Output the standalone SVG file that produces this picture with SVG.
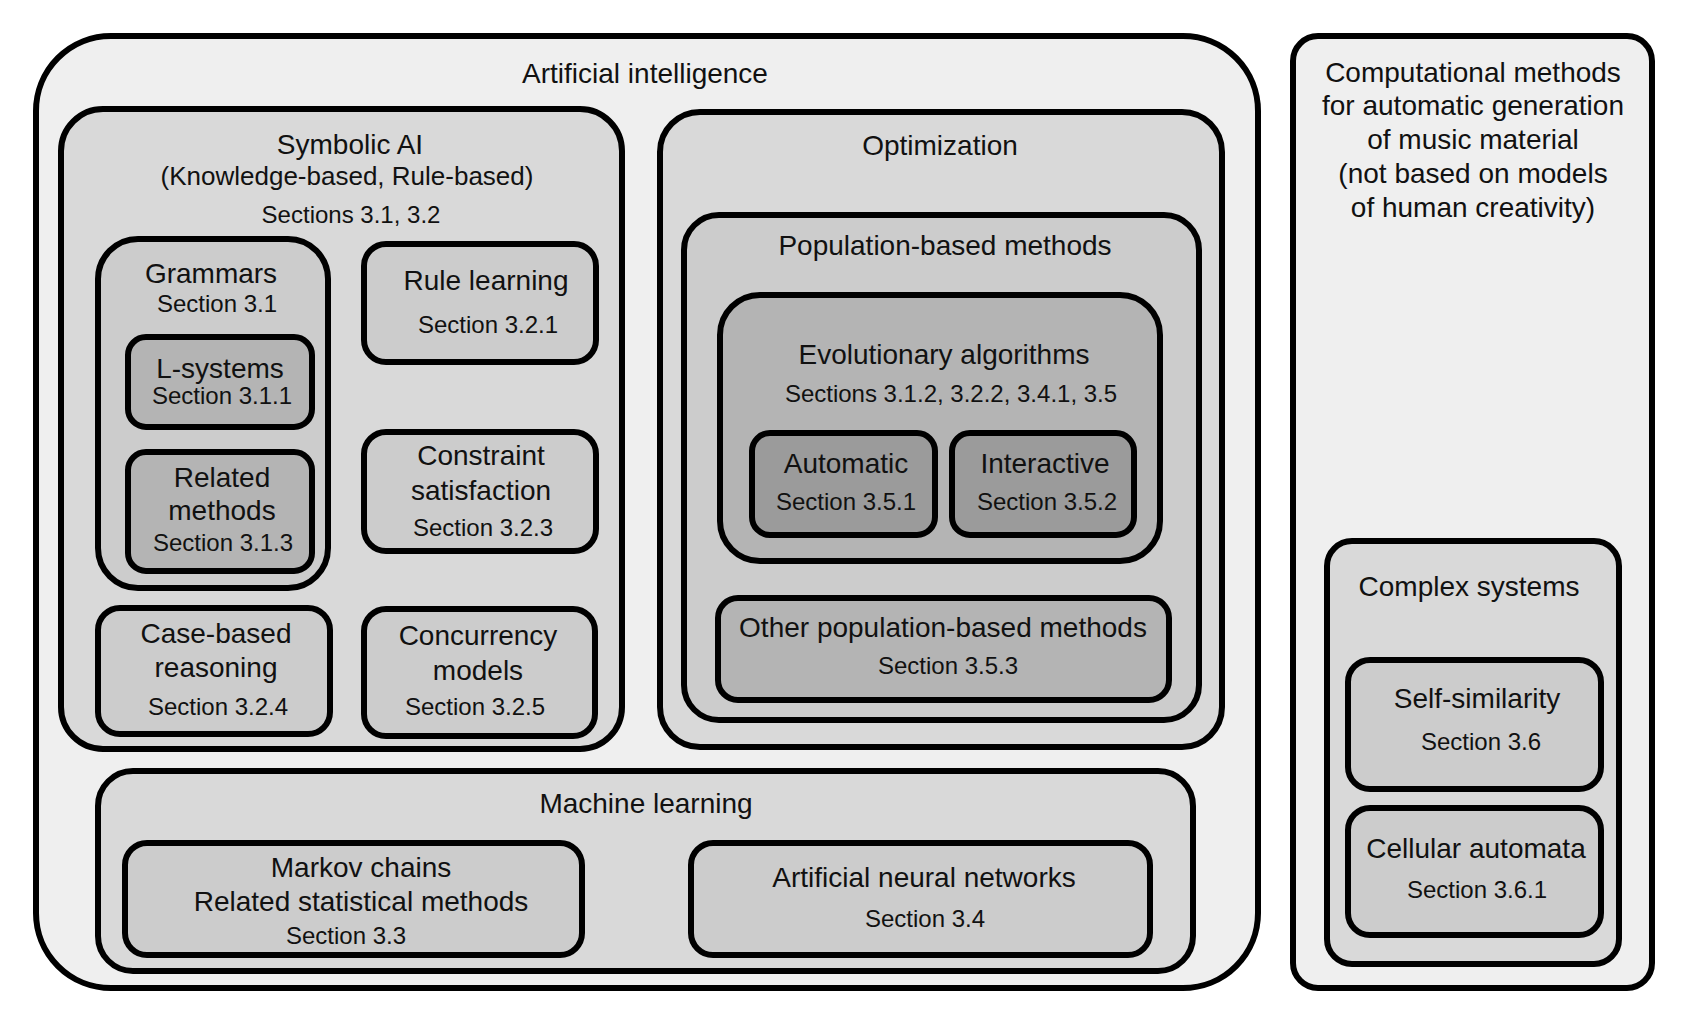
<svg xmlns="http://www.w3.org/2000/svg" width="1698" height="1028" viewBox="0 0 1698 1028">
<style>
rect{stroke:#000;stroke-width:6}
.l1{fill:#efefef}.l2{fill:#d9d9d9}.l3{fill:#cccccc}.l4{fill:#b4b4b4}.l5{fill:#9b9b9b}
text{font-family:"Liberation Sans",Arial,Helvetica,sans-serif;fill:#111;text-anchor:middle}
.t{font-size:28px}.p{font-size:26px}.s{font-size:24px}
</style>
<rect x="0" y="0" width="1698" height="1028" style="fill:#fff;stroke:none"/>
<g id="ai"><rect class="l1" x="36" y="36" width="1222" height="952" rx="75"/><text class="t" x="645" y="83">Artificial intelligence</text></g>
<g id="computational"><rect class="l1" x="1293" y="36" width="359" height="952" rx="25"/>
<text class="t" x="1473" y="82">Computational methods</text><text class="t" x="1473" y="115">for automatic generation</text><text class="t" x="1473" y="149">of music material</text><text class="t" x="1473" y="183">(not based on models</text><text class="t" x="1473" y="217">of human creativity)</text></g>
<g id="symbolic"><rect class="l2" x="61" y="109" width="561" height="640" rx="42"/>
<text class="t" x="350" y="154">Symbolic AI</text><text class="p" x="347" y="185">(Knowledge-based, Rule-based)</text><text class="s" x="351" y="223">Sections 3.1, 3.2</text></g>
<g id="grammars"><rect class="l3" x="98" y="239" width="230" height="349" rx="40"/><text class="t" x="211" y="283">Grammars</text><text class="s" x="217" y="312">Section 3.1</text></g>
<g id="lsystems"><rect class="l4" x="128" y="337" width="184" height="90" rx="18"/><text class="t" x="220" y="378">L-systems</text><text class="s" x="222" y="404">Section 3.1.1</text></g>
<g id="related"><rect class="l4" x="128" y="452" width="184" height="119" rx="18"/><text class="t" x="222" y="487">Related</text><text class="t" x="222" y="520">methods</text><text class="s" x="223" y="551">Section 3.1.3</text></g>
<g id="rule"><rect class="l3" x="364" y="244" width="232" height="118" rx="22"/><text class="t" x="486" y="290">Rule learning</text><text class="s" x="488" y="333">Section 3.2.1</text></g>
<g id="constraint"><rect class="l3" x="364" y="432" width="232" height="119" rx="22"/><text class="t" x="481" y="465">Constraint</text><text class="t" x="481" y="500">satisfaction</text><text class="s" x="483" y="536">Section 3.2.3</text></g>
<g id="case"><rect class="l3" x="98" y="608" width="232" height="126" rx="22"/><text class="t" x="216" y="643">Case-based</text><text class="t" x="216" y="677">reasoning</text><text class="s" x="218" y="715">Section 3.2.4</text></g>
<g id="concurrency"><rect class="l3" x="364" y="609" width="231" height="127" rx="22"/><text class="t" x="478" y="645">Concurrency</text><text class="t" x="478" y="680">models</text><text class="s" x="475" y="715">Section 3.2.5</text></g>
<g id="optimization"><rect class="l2" x="660" y="112" width="562" height="635" rx="40"/><text class="t" x="940" y="155">Optimization</text></g>
<g id="population"><rect class="l3" x="684" y="215" width="515" height="505" rx="35"/><text class="t" x="945" y="255">Population-based methods</text></g>
<g id="evolutionary"><rect class="l4" x="720" y="295" width="440" height="266" rx="40"/><text class="t" x="944" y="364">Evolutionary algorithms</text><text class="s" x="951" y="402">Sections 3.1.2, 3.2.2, 3.4.1, 3.5</text></g>
<g id="automatic"><rect class="l5" x="752" y="433" width="183" height="102" rx="18"/><text class="t" x="846" y="473">Automatic</text><text class="s" x="846" y="510">Section 3.5.1</text></g>
<g id="interactive"><rect class="l5" x="952" y="433" width="182" height="102" rx="18"/><text class="t" x="1045" y="473">Interactive</text><text class="s" x="1047" y="510">Section 3.5.2</text></g>
<g id="otherpop"><rect class="l4" x="718" y="598" width="451" height="102" rx="20"/><text class="t" x="943" y="637">Other population-based methods</text><text class="s" x="948" y="674">Section 3.5.3</text></g>
<g id="ml"><rect class="l2" x="98" y="771" width="1095" height="200" rx="35"/><text class="t" x="646" y="813">Machine learning</text></g>
<g id="markov"><rect class="l3" x="125" y="843" width="457" height="112" rx="22"/><text class="t" x="361" y="877">Markov chains</text><text class="t" x="361" y="911">Related statistical methods</text><text class="s" x="346" y="944">Section 3.3</text></g>
<g id="ann"><rect class="l3" x="691" y="843" width="459" height="112" rx="22"/><text class="t" x="924" y="887">Artificial neural networks</text><text class="s" x="925" y="927">Section 3.4</text></g>
<g id="complex"><rect class="l2" x="1327" y="541" width="292" height="423" rx="25"/><text class="t" x="1469" y="596">Complex systems</text></g>
<g id="selfsim"><rect class="l3" x="1348" y="660" width="253" height="129" rx="22"/><text class="t" x="1477" y="708">Self-similarity</text><text class="s" x="1481" y="750">Section 3.6</text></g>
<g id="cellular"><rect class="l3" x="1348" y="808" width="253" height="127" rx="22"/><text class="t" x="1476" y="858">Cellular automata</text><text class="s" x="1477" y="898">Section 3.6.1</text></g>
<g id="connectors"></g>
</svg>
